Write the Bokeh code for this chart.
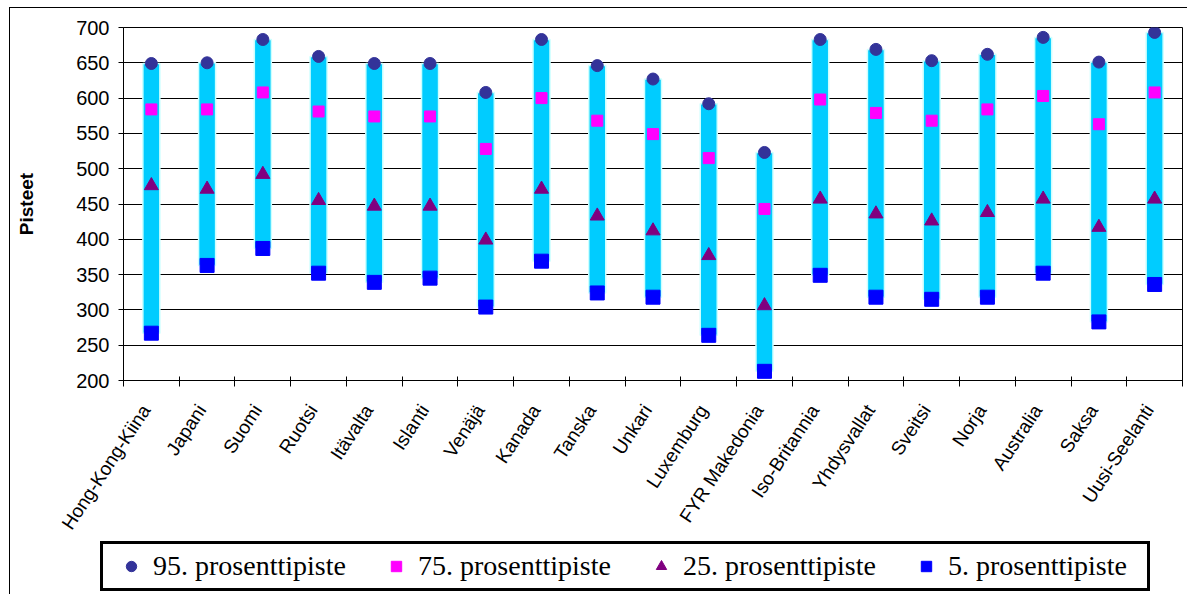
import math
from bokeh.plotting import figure
from bokeh.models import (Range1d, FixedTicker, Legend, LegendItem, ColumnDataSource)
from bokeh.embed import file_html
from bokeh.resources import INLINE

# ---- data ----
countries = ["Hong-Kong-Kiina", "Japani", "Suomi", "Ruotsi", "Itävalta", "Islanti",
             "Venäjä", "Kanada", "Tanska", "Unkari", "Luxemburg", "FYR Makedonia",
             "Iso-Britannia", "Yhdysvallat", "Sveitsi", "Norja", "Australia", "Saksa",
             "Uusi-Seelanti"]
p95 = [649, 650, 683, 659, 649, 649, 608, 683, 646, 627, 592, 523, 683, 669, 653, 662, 686, 651, 693]
p75 = [584, 584, 608, 581, 574, 574, 528, 600, 568, 549, 515, 443, 598, 579, 568, 584, 603, 563, 608]
p25 = [476, 471, 492, 455, 447, 447, 399, 471, 433, 412, 377, 306, 457, 436, 426, 438, 457, 417, 457]
p5 = [267, 363, 387, 352, 339, 345, 304, 369, 324, 318, 264, 213, 349, 318, 315, 318, 352, 283, 336]
y_ticks = [200, 250, 300, 350, 400, 450, 500, 550, 600, 650, 700]
series_labels = ["95. prosenttipiste", "75. prosenttipiste", "25. prosenttipiste", "5. prosenttipiste"]
y_title = "Pisteet"

colors = ["#333399", "#FF00FF", "#800080", "#0000FF"]
markers = ["circle", "square", "triangle", "square"]
sizes = [12, 11, 14, 14]
fields = ["p95", "p75", "p25", "p5"]

n = len(countries)
xs = [i + 0.5 for i in range(n)]
src = ColumnDataSource(dict(x=xs, name=countries, p95=p95, p75=p75, p25=p25, p5=p5))

p = figure(width=1178, height=544, output_backend="svg", toolbar_location=None,
           x_range=Range1d(0, n), y_range=Range1d(y_ticks[0], y_ticks[-1]),
           min_border_left=113, min_border_right=6, min_border_top=19, min_border_bottom=172,
           background_fill_color="white", border_fill_color="white")
p.styles = {"margin-left": "9px", "margin-top": "7px",
            "border-left": "1px solid black", "border-top": "1px solid black"}
p.outline_line_color = "black"
p.outline_line_width = 1

# bars
p.vbar(x="x", top="p95", bottom="p5", width=0.305, source=src,
       fill_color="#00CCFF", line_color="#CCFFFF", line_width=1.5)

for f, m, c, s in zip(fields, markers, colors, sizes):
    p.scatter("x", f, source=src, marker=m, size=s, fill_color=c, line_color=c)

# x axis: labels near category centres, tick marks at category boundaries
label_shift = 0.1  # small leftward nudge so the rotated label ends at the centre
label_pos = [x - label_shift for x in xs]
xa = p.xaxis[0]
xa.ticker = FixedTicker(ticks=label_pos, minor_ticks=list(range(n + 1)))
xa.major_label_overrides = {x: c for x, c in zip(label_pos, countries)}
xa.major_tick_line_color = None
xa.minor_tick_line_color = "black"
xa.minor_tick_in = 4
xa.minor_tick_out = 6
xa.major_label_orientation = 0.99
xa.major_label_standoff = 20
xa.major_label_text_font = "Liberation Sans"
xa.major_label_text_font_size = "19px"
xa.major_label_text_color = "black"
xa.axis_line_color = "black"

ya = p.yaxis[0]
ya.ticker = FixedTicker(ticks=y_ticks)
ya.minor_tick_line_color = None
ya.major_tick_in = 0
ya.major_tick_out = 5
ya.major_tick_line_color = "black"
ya.major_label_standoff = 9
ya.major_label_text_font = "Liberation Sans"
ya.major_label_text_font_size = "20px"
ya.major_label_text_color = "black"
ya.axis_line_color = "black"
ya.axis_label = y_title
ya.axis_label_text_font = "Liberation Sans"
ya.axis_label_text_font_style = "bold"
ya.axis_label_text_font_size = "19px"
ya.axis_label_text_color = "black"
ya.axis_label_standoff = 36

p.xgrid.grid_line_color = None
p.ygrid.ticker = FixedTicker(ticks=y_ticks)
p.ygrid.grid_line_color = "black"
p.ygrid.grid_line_width = 1

# legend in its own strip, overlapping the empty bottom of the chart
lg = figure(width=1178, height=58, output_backend="svg", toolbar_location=None,
            x_range=Range1d(0, 1), y_range=Range1d(0, 1),
            min_border=0, min_border_left=0, min_border_right=0,
            min_border_top=0, min_border_bottom=0,
            background_fill_alpha=0.0, border_fill_alpha=0.0)
lg.styles = {"margin-left": "9px", "margin-top": "-15px", "border-left": "1px solid black"}
lg.axis.visible = False
lg.grid.visible = False
lg.outline_line_color = None

items = []
for f, m, c, lab in zip(fields, markers, colors, series_labels):
    r = lg.scatter("x", f, source=src, marker=m, fill_color=c, line_color=c, visible=False)
    items.append(LegendItem(label=lab, renderers=[r]))

legend = Legend(items=items, orientation="horizontal", location=(90, 3),
                glyph_width=44, glyph_height=26, label_standoff=0,
                label_width=193, spacing=28, padding=6,
                label_text_font="Liberation Serif", label_text_font_size="28px",
                label_text_color="black",
                border_line_color="black", border_line_width=3, border_line_alpha=1.0,
                background_fill_color="white", background_fill_alpha=1.0,
                inactive_fill_alpha=0.0)
lg.add_layout(legend, "center")

open("out.html", "w").write(file_html([p, lg], INLINE))
